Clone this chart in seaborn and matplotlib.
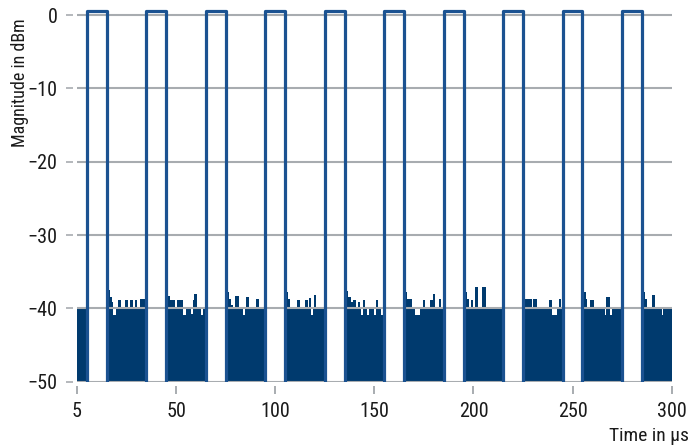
import matplotlib
matplotlib.use("Agg")
import matplotlib.pyplot as plt
import numpy as np
import pandas as pd
import seaborn as sns

# Pulse train: start times (µs), width and on-level
pulse_starts = [5, 35, 65, 95, 125, 155, 185, 215, 245, 275]
pulse_width = 10
pulse_level = 0.5
noise_floor = -50

# Noise envelope between pulses, as step points (time µs, top level dBm);
# the last point of each block closes it.
noise_t = [
    [0, 5],
    [15, 15.7, 16.5, 17.5, 18.3, 19.7, 20.9, 22.4, 24.2, 25.6, 26.8, 28.1,
     29.3, 30.4, 31.8, 34.3, 35],
    [45, 47, 49.5, 50.3, 53.4, 53.7, 55, 57.6, 58.4, 59.2, 60.4, 62.6, 63.7, 65],
    [75, 75.8, 76.6, 77.5, 78.5, 79.8, 81.8, 83.7, 84.8, 85.4, 86.9, 90.4,
     91.9, 95],
    [105, 105.8, 106.6, 107.5, 111, 112.3, 115.2, 116.3, 116.8, 118.2, 119,
     119.4, 120.8, 125],
    [135, 135.8, 136.6, 138, 139.2, 140.6, 141.8, 142.9, 143.4, 144.3, 145.5,
     146.3, 147.1, 150, 150.6, 151.9, 153.5, 154.2, 155],
    [165, 165.8, 166.6, 167.3, 169, 170.7, 173.2, 174.4, 175.8, 178.3, 179.6,
     180.8, 182.5, 183.8, 185],
    [195, 195.8, 196.6, 197.5, 198.7, 200, 200.7, 202.2, 204.4, 206.1, 215],
    [225, 225.8, 229.6, 230.1, 231.8, 238, 239.5, 241.9, 243.1, 244.4, 245],
    [255, 255.8, 256.6, 257.4, 259, 260.8, 266.2, 267.1, 268.9, 269.9, 275],
    [285, 285.8, 286.6, 287.4, 290.2, 291.8, 295, 295.8, 300],
]
noise_db = [
    [-40, -40],
    [-36.5, -37.5, -38.5, -39.2, -40.9, -40, -38.8, -40, -38.8, -40, -38.8,
     -40, -38.8, -40, -38.7, -40, -40],
    [-38.3, -38.9, -40, -38.8, -40, -40.9, -40, -40.8, -38.8, -38.1, -40,
     -40.9, -40, -40],
    [-36.5, -37.8, -38.7, -39.6, -40, -38.3, -40, -40.9, -40, -38.5, -40,
     -38.7, -40, -40],
    [-36.5, -37.8, -38.7, -40, -38.8, -40, -38.8, -40, -38.6, -40.9, -40,
     -38.2, -40, -40],
    [-36.5, -37.6, -38.5, -39.1, -38.9, -40, -39.1, -40, -40.9, -38.9, -40,
     -40.9, -40, -40.9, -38.8, -40, -40.9, -40, -40],
    [-36.5, -37.8, -38.7, -38.7, -40, -40.9, -40, -38.9, -40, -38.9, -38.1,
     -40, -38.7, -40, -40],
    [-36.5, -37.8, -38.7, -40, -38.9, -40, -37.1, -40, -37.1, -40, -40],
    [-36.5, -38.7, -40, -38.7, -40, -38.8, -40.9, -40, -38.7, -40, -40],
    [-36.8, -37.8, -38.7, -40, -38.8, -40, -40.9, -38.5, -40.9, -40, -40],
    [-36.8, -37.8, -38.7, -40, -38.2, -40, -40.9, -40, -40],
]

x_ticks = [0, 50, 100, 150, 200, 250, 300]
x_tick_labels = ["5", "50", "100", "150", "200", "250", "300"]
y_ticks = [0, -10, -20, -30, -40, -50]

FILL = "#003a6e"
LINE = "#1b5291"
GRID = "#a8acb0"
TEXT = "#1a1a1a"

sns.set_theme(style="white")
plt.rcParams["font.family"] = ["Roboto Condensed", "Liberation Sans Narrow",
                               "Liberation Sans", "DejaVu Sans"]

fig = plt.figure(figsize=(6.97, 4.47), dpi=100)
ax = fig.add_axes([77 / 697, 1 - 381.7 / 447, 594.7 / 697, 377.7 / 447])

# Noise floor blocks between pulses
for ts, dbs in zip(noise_t, noise_db):
    ax.fill_between(ts, noise_floor, dbs, step="post", color=FILL,
                    linewidth=0, zorder=1)

# Pulse trace
rows = []
for i, s in enumerate(pulse_starts):
    for t, v in [(s, noise_floor), (s, pulse_level),
                 (s + pulse_width, pulse_level), (s + pulse_width, noise_floor)]:
        rows.append({"pulse": i, "t": t, "db": v})
pulses = pd.DataFrame(rows)
sns.lineplot(data=pulses, x="t", y="db", units="pulse", estimator=None,
             sort=False, color=LINE, linewidth=2.3, ax=ax, zorder=3,
             legend=False)

ax.set_xlim(0, 300)
ax.set_ylim(-50, 1.5)
ax.set_xticks(x_ticks)
ax.set_xticklabels(x_tick_labels)
ax.set_yticks(y_ticks)
ax.set_yticklabels([f"\u2212{abs(v)}" if v < 0 else str(v) for v in y_ticks])

ax.set_axisbelow(False)
ax.yaxis.grid(True, color=GRID, linewidth=1.5)
ax.xaxis.grid(False)
for side in ["top", "right", "left", "bottom"]:
    ax.spines[side].set_visible(False)
ax.spines["left"].set_position(("outward", 2.8))
ax.spines["bottom"].set_position(("outward", 3.0))

ax.tick_params(axis="y", direction="out", length=4.8, width=1.2,
               color=GRID, pad=6.5, labelsize=14.5, labelcolor=TEXT,
               left=True)
ax.tick_params(axis="x", direction="out", length=5.8, width=1.4,
               color=GRID, pad=5.5, labelsize=14.5, labelcolor=TEXT,
               bottom=True)

ax.set_xlabel("")
ax.set_ylabel("")
fig.text(689 / 697, 1 - 436 / 447, "Time in \u00b5s", ha="right",
         va="center", fontsize=14, color=TEXT)
fig.text(20 / 697, 1 - 83 / 447, "Magnitude in dBm", ha="center",
         va="center", rotation=90, fontsize=13, color=TEXT)

fig.savefig("out.png", dpi=100)
